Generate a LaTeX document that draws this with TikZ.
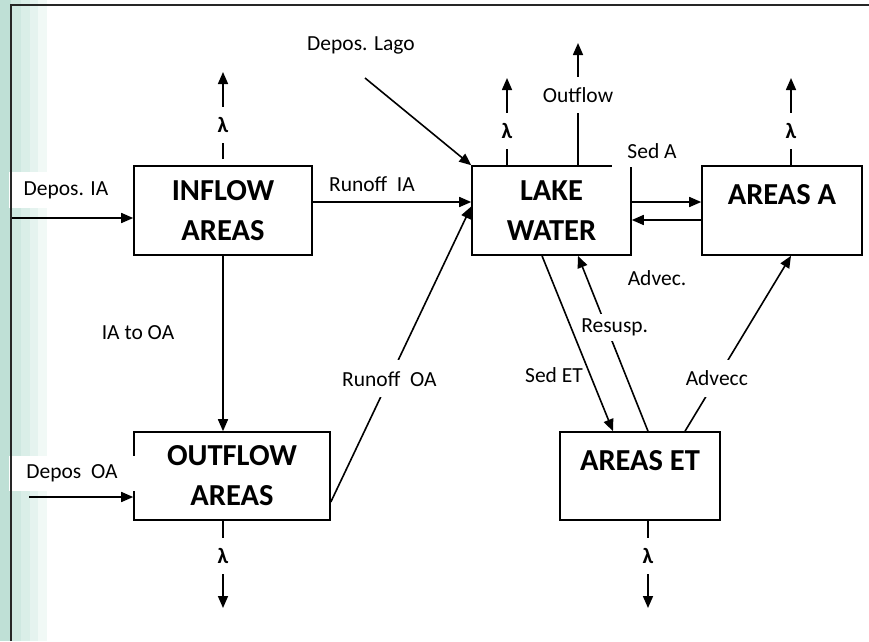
\documentclass[tikz,border=0pt]{standalone}
\usepackage{fontspec}
\setmainfont{Carlito}
\usetikzlibrary{positioning, arrows.meta}
\definecolor{bandA}{HTML}{BFE0D6}
\definecolor{bandB}{HTML}{CFE8E1}
\definecolor{bandC}{HTML}{DAEEE8}
\definecolor{bandD}{HTML}{E5F3EF}
\definecolor{bandE}{HTML}{F1F9F6}
\tikzset{
    box/.style={draw, line width=1.6pt, inner sep=0pt, align=center,
        font=\fontsize{30.5}{40}\selectfont\bfseries}, % Compartments
    flow/.style={line width=1.6pt, -{Triangle[length=12pt, width=10pt]}}, % Fluxes
    link/.style={line width=1.6pt}, % Plain line pieces
    lbl/.style={font=\fontsize{21.5}{24}\selectfont, inner sep=0pt}, % Flux labels
    lam/.style={lbl, font=\fontsize{22}{24}\selectfont\bfseries, minimum height=36pt}, % Decay
}

\begin{document}
\begin{tikzpicture}[x=1pt, y=-1pt, on grid]
       \useasboundingbox (0,0) rectangle (869,641);
       % Side band
       \fill[bandA] (0,0) rectangle (11,641);
       \fill[bandB] (11,0) rectangle (21,641);
       \fill[bandC] (21,0) rectangle (30,641);
       \fill[bandD] (30,0) rectangle (38,641);
       \fill[bandE] (38,0) rectangle (47,641);

       % Compartments
       \node[box, minimum width=178pt, minimum height=89pt] (inflow) at (223,210.5) {INFLOW\\AREAS};
       \node[box, minimum width=159pt, minimum height=89pt] (lake) [right=328.5pt of inflow] {LAKE\\WATER};
       \node[box, minimum width=160pt, minimum height=89pt] (areasA) [right=230.5pt of lake] {AREAS A\\[-8pt]~};
       \node[box, minimum width=196pt, minimum height=88pt, xshift=9pt] (outflow) [below=265.5pt of inflow] {OUTFLOW\\AREAS};
       \node[box, minimum width=160pt, minimum height=88pt] (areasET) [right=408pt of outflow] {AREAS ET\\[-8pt]~};

       % Decay losses
       \node[lam] (lamIA) [above=85.5pt of inflow] {λ};
       \coordinate[above=53pt of lamIA] (topIA);
       \node[lam] (lamLake) at (507,131) {λ};
       \coordinate (topLake) at (507,78);
       \node[lbl, minimum height=36pt] (outLbl) at (578,95) {Outflow};
       \coordinate (topOut) at (578,43);
       \node[lam] (lamA) at (791,131) {λ};
       \coordinate (topA) at (791,78);
       \node[lam] (lamOA) at (223,556) {λ};
       \coordinate (botOA) at (223,608);
       \node[lam] (lamET) at (648,556) {λ};
       \coordinate (botET) at (648,608);

       \draw[link] ([yshift=6pt]inflow.north) -- (lamIA);
       \draw[flow] (lamIA) -- (topIA);
       \draw[link] (lake.north -| lamLake) -- (lamLake);
       \draw[flow] (lamLake) -- (topLake);
       \draw[link] (lake.north -| outLbl) -- (outLbl);
       \draw[flow] (outLbl) -- (topOut);
       \draw[link] (areasA.north -| lamA) -- (lamA);
       \draw[flow] (lamA) -- (topA);
       \draw[link] (outflow.south -| lamOA) -- (lamOA);
       \draw[flow] (lamOA) -- (botOA);
       \draw[link] (areasET.south -| lamET) -- (lamET);
       \draw[flow] (lamET) -- (botET);

       % Deposition
       \node[lbl, fill=white, inner xsep=15pt, minimum height=36pt] (depIA) at (66,190) {Depos. IA};
       \coordinate (srcIA) at (11,218);
       \draw[flow] (srcIA) -- (srcIA -| inflow.west);
       \node[lbl, fill=white, minimum width=126pt, minimum height=35pt] (depOA) at (72,473) {Depos\ \ OA};
       \coordinate (srcOA) at (29,497);
       \draw[flow] (srcOA) -- (srcOA -| outflow.west);
       \node[lbl] (depLago) at (361,45) {Depos. Lago};
       \coordinate (srcLago) at (365,78);
       \draw[flow] (srcLago) -- (lake.north west);

       % Exchanges
       \draw[flow] ([yshift=8.5pt]inflow.east) -- ([yshift=8.5pt]lake.west);
       \node[lbl] (runIA) at (372,184) {Runoff\ \ IA};
       \draw[flow] ([yshift=-26pt]outflow.east) -- node[lbl, fill=white, pos=0.417, minimum height=37pt] {Runoff\ \ OA} ([yshift=4pt]lake.west);
       \draw[flow] (inflow.south) -- (inflow.south |- outflow.north);
       \node[lbl] (iaoa) at (138,333) {IA to OA};
       \draw[flow] ([yshift=8.5pt]lake.east) -- ([yshift=8.5pt]areasA.west);
       \node[lbl, fill=white, inner xsep=15pt, minimum height=32pt] (sedA) at (652,151) {Sed A};
       \draw[flow] ([yshift=-9.5pt]areasA.west) -- ([yshift=-9.5pt]lake.east);
       \node[lbl] (advA) at (657,278) {Advec.};
       \draw[flow] ([xshift=-9.5pt]lake.south) -- ([xshift=-27pt]areasET.north);
       \node[lbl] (sedET) at (554,375) {Sed ET};
       \draw[flow] ([xshift=8pt]areasET.north) -- node[lbl, fill=white, pos=0.59, xshift=8pt, minimum height=27pt] {Resusp.} ([xshift=26.5pt]lake.south);
       \draw[flow] ([xshift=45pt]areasET.north) -- node[lbl, fill=white, pos=0.3, minimum height=37pt] {Advecc} ([xshift=9pt]areasA.south);

       % Frame
       \draw[line width=1.6pt, black!85] (11,641) -- (11,5) -- (869,5);
\end{tikzpicture}
\end{document}
